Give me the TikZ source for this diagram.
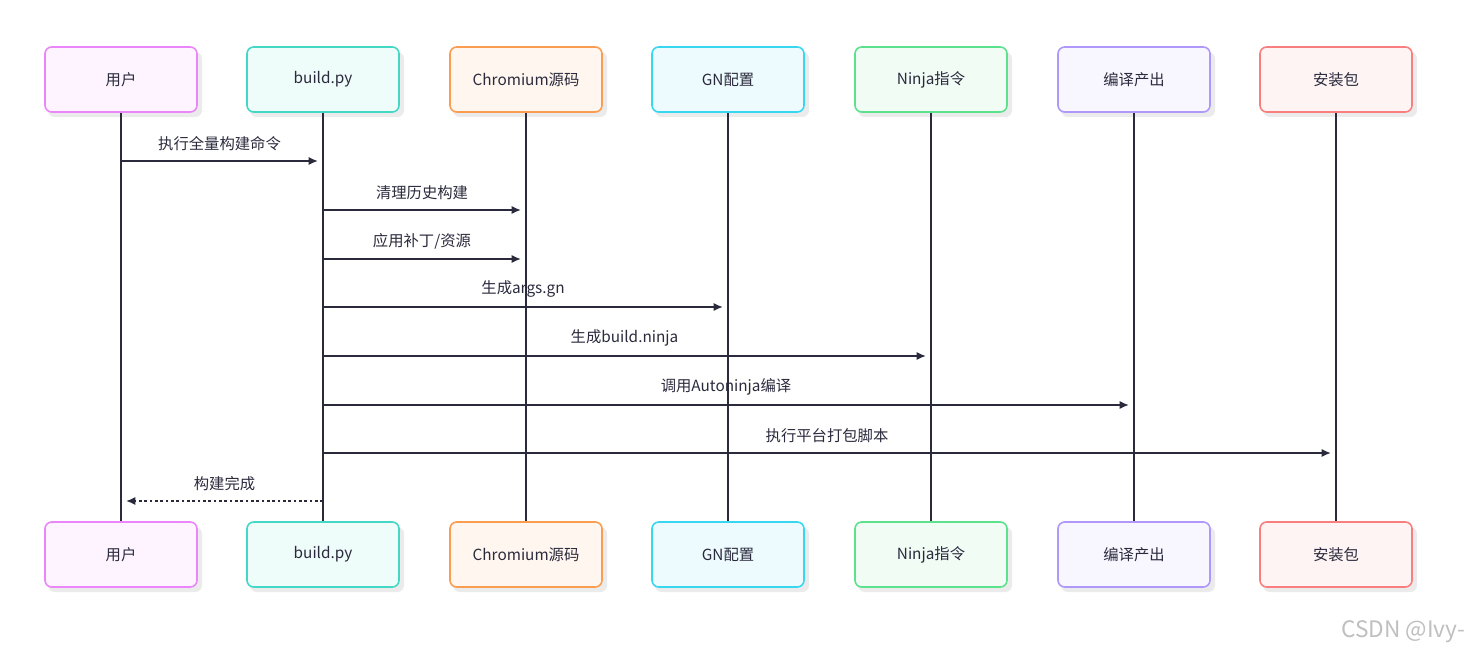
\documentclass[tikz,border=0pt]{standalone}
\usepackage{fontspec}
\setmainfont{Noto Sans CJK SC}
\usetikzlibrary{arrows.meta}
\definecolor{ln}{HTML}{2B2A3D}
\tikzset{
 actor/.style={draw=#1!90!white, line width=1.2pt, fill=#1!8!white, rounded corners=5pt, minimum width=114pt, minimum height=48.75pt, font=\fontsize{11.5}{13}\selectfont, text=ln, inner sep=0pt},
 life/.style={draw=ln, line width=1.2pt},
 msg/.style={draw=ln, line width=1.2pt, -{Latex[length=7pt,width=6pt]}},
 ret/.style={msg, dash pattern=on 2pt off 2pt},
 lbl/.style={font=\fontsize{11.5}{13}\selectfont, text=ln, anchor=south, inner sep=1pt}
}
\definecolor{c1}{HTML}{E879F9}\definecolor{c2}{HTML}{2DD4BF}\definecolor{c3}{HTML}{FB923C}
\definecolor{c4}{HTML}{22D3EE}\definecolor{c5}{HTML}{4ADE80}\definecolor{c6}{HTML}{A78BFA}\definecolor{c7}{HTML}{F87171}
\begin{document}
\begin{tikzpicture}[x=0.75pt,y=-0.75pt]
\useasboundingbox (0,0) rectangle (1473,659);
\foreach \n/\x/\c/\t in {a/121/c1/用户,b/323/c2/build.py,c/526/c3/Chromium源码,d/728/c4/GN配置,e/931/c5/Ninja指令,f/1134/c6/编译产出,g/1336/c7/安装包}{
  \fill[black!8, rounded corners=5pt] (\x-73,52) rectangle (\x+81,117);
  \fill[black!8, rounded corners=5pt] (\x-73,527) rectangle (\x+81,592);
  \draw[life] (\x,112) -- (\x,522);
  \node[actor=\c] (\n t) at (\x,79.5) {\t};
  \node[actor=\c] (\n b) at (\x,554.5) {\t};
}
\foreach \n/\x in {a/121,b/323,c/526,d/728,e/931,f/1134,g/1336}{
  \foreach \y/\k in {161/1,210/2,259/3,307/4,356/5,405/6,453/7,501/8}{
    \coordinate (\n\k) at (\x,\y);
  }
}
\draw[msg] (a1) -- ([xshift=-3.75pt]b1) node[lbl, midway, above=6pt] {执行全量构建命令};
\draw[msg] (b2) -- ([xshift=-3.75pt]c2) node[lbl, midway, above=6pt] {清理历史构建};
\draw[msg] (b3) -- ([xshift=-3.75pt]c3) node[lbl, midway, above=6pt] {应用补丁/资源};
\draw[msg] (b4) -- ([xshift=-3.75pt]d4) node[lbl, midway, above=6pt] {生成args.gn};
\draw[msg] (b5) -- ([xshift=-3.75pt]e5) node[lbl, midway, above=6pt] {生成build.ninja};
\draw[msg] (b6) -- ([xshift=-3.75pt]f6) node[lbl, midway, above=6pt] {调用Autoninja编译};
\draw[msg] (b7) -- ([xshift=-3.75pt]g7) node[lbl, midway, above=6pt] {执行平台打包脚本};
\draw[ret] (b8) -- ([xshift=3.75pt]a8) node[lbl, midway, above=6pt] {构建完成};
\node[font=\fontsize{17}{19}\selectfont, text=black!25, anchor=east] (wm) at (1470,632) {CSDN @Ivy-};
\end{tikzpicture}
\end{document}
